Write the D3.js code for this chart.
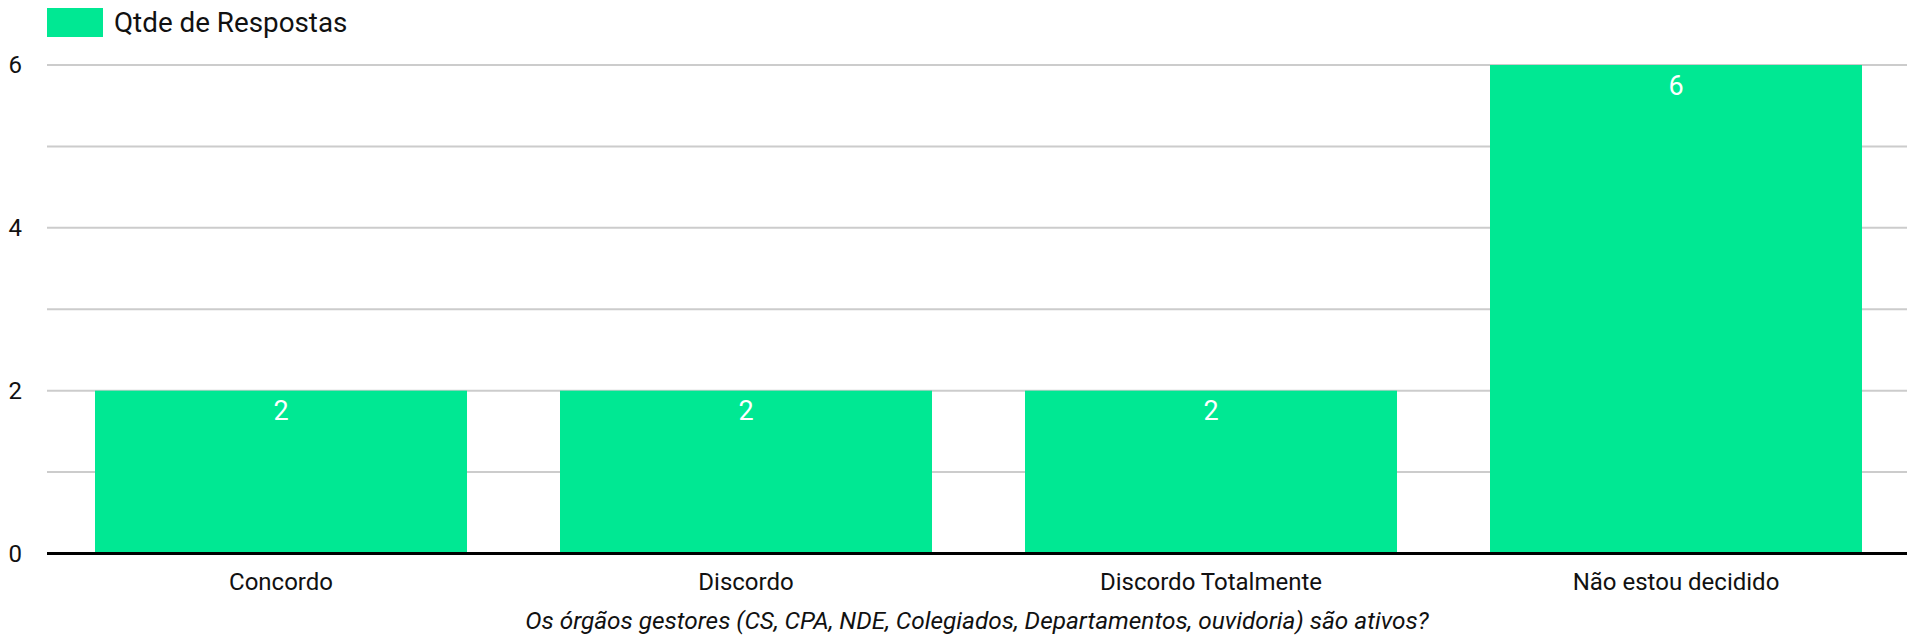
<!DOCTYPE html>
<html>
<head>
<meta charset="utf-8">
<script src="https://cdn.jsdelivr.net/npm/d3@7"></script>
<style>
  html, body { margin: 0; padding: 0; background: #fff; }
  svg { display: block; font-family: Roboto, "Noto Sans", sans-serif; }
</style>
</head>
<body>
<svg id="chart" width="1907" height="640"></svg>
<script>
const categories = ["Concordo", "Discordo", "Discordo Totalmente", "Não estou decidido"];
const values = [2, 2, 2, 6];
const yTicks = [0, 2, 4, 6];
const gridTicks = [1, 2, 3, 4, 5, 6];
const seriesName = "Qtde de Respostas";
const xTitle = "Os órgãos gestores (CS, CPA, NDE, Colegiados, Departamentos, ouvidoria) são ativos?";

const barColor = "#00e893";
const W = 1907, H = 640;
const margin = { left: 47, right: 0, top: 65, bottom: 86.5 };

const svg = d3.select("#chart");

const x = d3.scaleBand()
  .domain(categories)
  .range([margin.left + 1.5, W - margin.right + 1.5])
  .paddingInner(0.2)
  .paddingOuter(0.1);

const y = d3.scaleLinear()
  .domain([0, 6])
  .range([H - margin.bottom, margin.top]);

// gridlines
svg.append("g")
  .selectAll("line")
  .data(gridTicks)
  .join("line")
  .attr("x1", margin.left)
  .attr("x2", W - margin.right)
  .attr("y1", d => y(d))
  .attr("y2", d => y(d))
  .attr("stroke", "#cccccc")
  .attr("stroke-width", 2);

// y tick labels
svg.append("g")
  .selectAll("text")
  .data(yTicks)
  .join("text")
  .attr("x", 22)
  .attr("y", d => y(d))
  .attr("dy", "0.35em")
  .attr("text-anchor", "end")
  .attr("font-size", 24)
  .attr("fill", "#111")
  .text(d => d);

// bars
svg.append("g")
  .selectAll("rect")
  .data(values)
  .join("rect")
  .attr("x", (d, i) => x(categories[i]))
  .attr("y", d => y(d))
  .attr("width", x.bandwidth())
  .attr("height", d => y(0) - y(d))
  .attr("fill", barColor);

// value labels
svg.append("g")
  .selectAll("text")
  .data(values)
  .join("text")
  .attr("x", (d, i) => x(categories[i]) + x.bandwidth() / 2)
  .attr("y", d => y(d) + 29.5)
  .attr("text-anchor", "middle")
  .attr("font-size", 27)
  .attr("fill", "#ffffff")
  .text(d => d);

// x axis baseline
svg.append("line")
  .attr("x1", margin.left)
  .attr("x2", W - margin.right)
  .attr("y1", y(0))
  .attr("y2", y(0))
  .attr("stroke", "#000")
  .attr("stroke-width", 3);

// x labels
svg.append("g")
  .selectAll("text")
  .data(categories)
  .join("text")
  .attr("x", d => x(d) + x.bandwidth() / 2)
  .attr("y", 589.5)
  .attr("text-anchor", "middle")
  .attr("font-size", 24)
  .attr("fill", "#111")
  .text(d => d);

// x title
svg.append("text")
  .attr("x", (margin.left + W - margin.right) / 2)
  .attr("y", 629)
  .attr("text-anchor", "middle")
  .attr("font-size", 24.4)
  .attr("font-style", "italic")
  .attr("fill", "#111")
  .text(xTitle);

// legend
const legend = svg.append("g");
legend.append("rect")
  .attr("x", 47).attr("y", 8)
  .attr("width", 56).attr("height", 29)
  .attr("fill", barColor);
legend.append("text")
  .attr("x", 114).attr("y", 32)
  .attr("font-size", 27.8)
  .attr("fill", "#111")
  .text(seriesName);
</script>
</body>
</html>
